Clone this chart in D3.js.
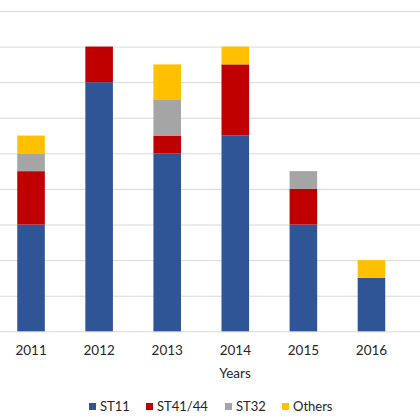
<!DOCTYPE html>
<html>
<head>
<meta charset="utf-8">
<script src="https://cdn.jsdelivr.net/npm/d3@7"></script>
<style>
  body { margin: 0; background: #fff; }
  svg { display: block; }
</style>
</head>
<body>
<div id="chart"></div>
<script>
// data
const years = ["2011", "2012", "2013", "2014", "2015", "2016"];
const seriesNames = ["ST11", "ST41/44", "ST32", "Others"];
const st11 = [6, 14, 10, 11, 6, 3];
const st41_44 = [3, 2, 1, 4, 2, 0];
const st32 = [1, 0, 2, 0, 1, 0];
const others = [1, 0, 2, 1, 0, 1];
const yTicks = [0, 2, 4, 6, 8, 10, 12, 14, 16, 18];

const colors = ["#2F5597", "#C00000", "#A5A5A5", "#FFC000"];
const width = 420, height = 420;

const rows = years.map((y, i) => ({
    year: y,
    "ST11": st11[i],
    "ST41/44": st41_44[i],
    "ST32": st32[i],
    "Others": others[i]
}));

const svg = d3.select("#chart")
    .append("svg")
    .attr("width", width)
    .attr("height", height)
    .style("font-family", "Lato, 'Open Sans', sans-serif");

const x = d3.scaleBand()
    .domain(years)
    .range([-3, 405.5])
    .paddingInner(0.595)
    .paddingOuter(0.2975);

const y = d3.scaleLinear()
    .domain([0, 18])
    .range([331.3, 11]);

// gridlines
svg.append("g")
    .attr("transform", "translate(420,0)")
    .call(d3.axisLeft(y).tickValues(yTicks).tickSize(420).tickFormat(""))
    .call(g => g.select(".domain").remove())
    .call(g => g.selectAll("line").attr("stroke", "#D9D9D9").attr("stroke-width", 1));

const stacked = d3.stack().keys(seriesNames)(rows);

svg.append("g")
    .selectAll("g")
    .data(stacked)
    .enter()
    .append("g")
    .attr("fill", (d, i) => colors[i])
    .selectAll("rect")
    .data(d => d)
    .enter()
    .append("rect")
    .attr("x", d => x(d.data.year))
    .attr("y", d => y(d[1]))
    .attr("width", x.bandwidth())
    .attr("height", d => y(d[0]) - y(d[1]));

// year labels
svg.append("g")
    .attr("transform", "translate(0,331.3)")
    .call(d3.axisBottom(x).tickSize(0).tickPadding(14))
    .call(g => g.select(".domain").remove())
    .call(g => g.selectAll("text")
        .attr("fill", "#262626")
        .style("font-size", "13.5px")
        .style("font-family", "Lato, 'Open Sans', sans-serif"));

svg.append("text")
    .attr("x", 235)
    .attr("y", 378)
    .attr("text-anchor", "middle")
    .attr("fill", "#262626")
    .style("font-size", "13.5px")
    .text("Years");

// legend
const legendX = [89, 146, 225, 282];
const legend = svg.append("g")
    .selectAll("g")
    .data(seriesNames)
    .enter()
    .append("g")
    .attr("transform", (d, i) => `translate(${legendX[i]},403)`);

legend.append("rect")
    .attr("width", 7)
    .attr("height", 7)
    .attr("fill", (d, i) => colors[i]);

legend.append("text")
    .attr("x", 11)
    .attr("y", 8)
    .attr("fill", "#262626")
    .style("font-size", "13px")
    .text(d => d);
</script>
</body>
</html>
